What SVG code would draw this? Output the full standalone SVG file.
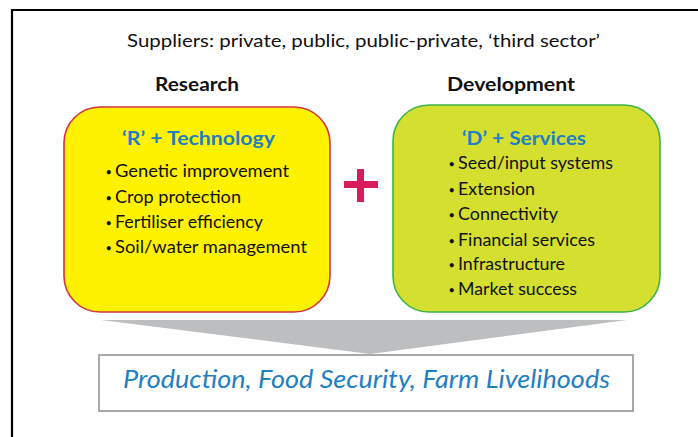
<svg xmlns="http://www.w3.org/2000/svg" width="698" height="437" viewBox="0 0 698 437">
<style>
.body{font-family:Lato,"Open Sans","Liberation Sans",sans-serif;font-size:17px;fill:#111;}
.dot{font-size:11px;}
.title{font-family:Lato,"Open Sans","Liberation Sans",sans-serif;font-size:19px;font-weight:bold;fill:#1f7fc4;}
.head{font-family:Lato,"Open Sans","Liberation Sans",sans-serif;font-size:19px;font-weight:bold;fill:#111;}
.sup{font-family:Lato,"Open Sans","Liberation Sans",sans-serif;font-size:18px;fill:#111;}
.out{font-family:Lato,"Open Sans","Liberation Sans",sans-serif;font-size:25px;font-style:italic;fill:#1f7fc4;}
</style>
<rect width="698" height="437" fill="#ffffff"/>
<g id="frame">
<path d="M12 438 V10 H699" fill="none" stroke="#000" stroke-width="2.2"/>
</g>
<g id="suppliers">
<text class="sup" x="127" y="47" textLength="473" lengthAdjust="spacingAndGlyphs">Suppliers: private, public, public-private, ‘third sector’</text>
</g>
<g id="research-head">
<text class="head" x="155" y="91" textLength="84" lengthAdjust="spacingAndGlyphs">Research</text>
</g>
<g id="development-head">
<text class="head" x="447" y="91" textLength="128" lengthAdjust="spacingAndGlyphs">Development</text>
</g>
<g id="connectors">
<polygon points="101,320 627,320 370,354" fill="#bcbec0"/>
</g>
<g id="research-box">
<rect x="64" y="107" width="266" height="205" rx="36" ry="36" fill="#fff200" stroke="#d2333f" stroke-width="1.6"/>
<text class="title" x="122" y="145" textLength="153" lengthAdjust="spacingAndGlyphs">‘R’ + Technology</text>
<text class="body" y="177"><tspan class="dot" x="105.5" dy="-1">•</tspan><tspan x="115" dy="1" textLength="174" lengthAdjust="spacingAndGlyphs">Genetic improvement</tspan></text>
<text class="body" y="203"><tspan class="dot" x="105.5" dy="-1">•</tspan><tspan x="115" dy="1" textLength="126" lengthAdjust="spacingAndGlyphs">Crop protection</tspan></text>
<text class="body" y="228"><tspan class="dot" x="105.5" dy="-1">•</tspan><tspan x="115" dy="1" textLength="148" lengthAdjust="spacingAndGlyphs">Fertiliser efficiency</tspan></text>
<text class="body" y="253"><tspan class="dot" x="105.5" dy="-1">•</tspan><tspan x="115" dy="1" textLength="192" lengthAdjust="spacingAndGlyphs">Soil/water management</tspan></text>
</g>
<g id="plus">
<rect x="344" y="181" width="34" height="7" fill="#d91c5c"/>
<rect x="357" y="169" width="7" height="33" fill="#d91c5c"/>
</g>
<g id="development-box">
<rect x="393" y="105" width="267" height="207" rx="36" ry="36" fill="#d5df30" stroke="#3bb44a" stroke-width="1.6"/>
<text class="title" x="462" y="145" textLength="124" lengthAdjust="spacingAndGlyphs">‘D’ + Services</text>
<text class="body" y="169"><tspan class="dot" x="448.5" dy="-1">•</tspan><tspan x="458" dy="1" textLength="155" lengthAdjust="spacingAndGlyphs">Seed/input systems</tspan></text>
<text class="body" y="195"><tspan class="dot" x="448.5" dy="-1">•</tspan><tspan x="458" dy="1" textLength="77" lengthAdjust="spacingAndGlyphs">Extension</tspan></text>
<text class="body" y="220"><tspan class="dot" x="448.5" dy="-1">•</tspan><tspan x="458" dy="1" textLength="100" lengthAdjust="spacingAndGlyphs">Connectivity</tspan></text>
<text class="body" y="246"><tspan class="dot" x="448.5" dy="-1">•</tspan><tspan x="458" dy="1" textLength="137" lengthAdjust="spacingAndGlyphs">Financial services</tspan></text>
<text class="body" y="270"><tspan class="dot" x="448.5" dy="-1">•</tspan><tspan x="458" dy="1" textLength="107" lengthAdjust="spacingAndGlyphs">Infrastructure</tspan></text>
<text class="body" y="295"><tspan class="dot" x="448.5" dy="-1">•</tspan><tspan x="458" dy="1" textLength="119" lengthAdjust="spacingAndGlyphs">Market success</tspan></text>
</g>
<g id="outcome-box">
<rect x="99" y="355" width="534" height="56" fill="#ffffff" stroke="#a7a9ac" stroke-width="2"/>
<text class="out" x="123" y="388" textLength="487" lengthAdjust="spacingAndGlyphs">Production, Food Security, Farm Livelihoods</text>
</g>
</svg>
